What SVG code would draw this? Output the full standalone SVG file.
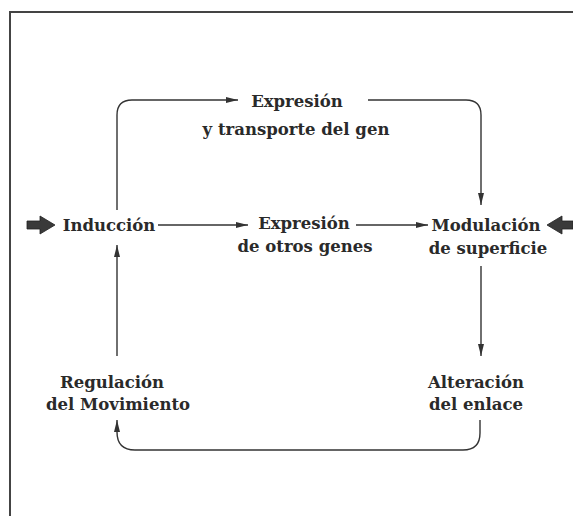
<svg xmlns="http://www.w3.org/2000/svg" width="573" height="516" viewBox="0 0 573 516">
<style>
text{font-family:"DejaVu Serif","Liberation Serif",serif;font-size:16.5px;font-weight:bold;fill:#2a2a2a;text-anchor:middle}
.c{fill:none;stroke:#333;stroke-width:1.4}
.frame{fill:none;stroke:#444;stroke-width:2}
.big{fill:#3a3a3a;stroke:#222;stroke-width:0.8}
</style>
<defs>
<marker id="ah" viewBox="0 0 12 6" refX="12" refY="3" markerWidth="12" markerHeight="6" markerUnits="userSpaceOnUse" orient="auto">
<path d="M0,0 L12,3 L0,6 Z" fill="#333"/>
</marker>
</defs>
<path class="frame" d="M10,516 V12 H573"/>
<g id="connectors">
<path class="c" d="M117,210 V115 Q117,100 132,100 H238" marker-end="url(#ah)"/>
<path class="c" d="M368,100 H466 Q481,100 481,115 V205" marker-end="url(#ah)"/>
<path class="c" d="M158,225 H248" marker-end="url(#ah)"/>
<path class="c" d="M356,225 H428" marker-end="url(#ah)"/>
<path class="c" d="M481,266 V356" marker-end="url(#ah)"/>
<path class="c" d="M480,420 V433 Q480,450 463,450 H135 Q117,450 117,432 V420" marker-end="url(#ah)"/>
<path class="c" d="M117,356 V245" marker-end="url(#ah)"/>
<polygon class="big" points="27,221 40,221 40,216 55,225 40,234 40,229 27,229"/>
<polygon class="big" points="573,221 562,221 562,216 547,225 562,234 562,229 573,229"/>
</g>
<g id="n-induccion"><text x="109" y="231">Inducción</text></g>
<g id="n-expresion-transporte"><text x="297" y="107">Expresión</text><text x="296" y="135">y transporte del gen</text></g>
<g id="n-expresion-otros"><text x="304" y="229">Expresión</text><text x="305" y="252">de otros genes</text></g>
<g id="n-modulacion"><text x="486" y="231">Modulación</text><text x="488" y="254">de superficie</text></g>
<g id="n-alteracion"><text x="476" y="388">Alteración</text><text x="476" y="410">del enlace</text></g>
<g id="n-regulacion"><text x="112" y="388">Regulación</text><text x="118" y="410">del Movimiento</text></g>
</svg>
